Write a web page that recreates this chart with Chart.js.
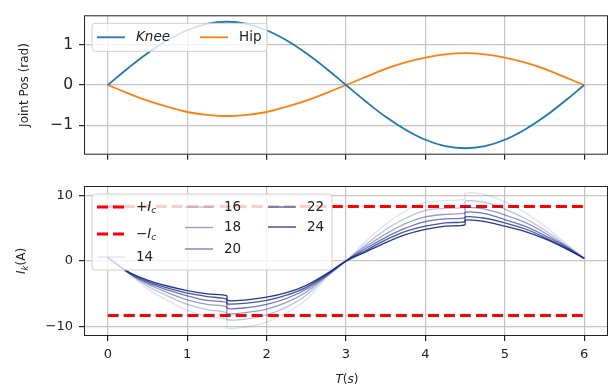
<!DOCTYPE html>
<html>
<head>
<meta charset="utf-8">
<script src="https://cdn.jsdelivr.net/npm/chart.js@4.4.1/dist/chart.umd.min.js"></script>
<style>
  body { margin: 0; background: #fff; }
  #wrap { position: relative; width: 613px; height: 392px; font-family: "DejaVu Sans"; color: #222; }
  #posChart { position: absolute; left: 0; top: 0; }
  #curChart { position: absolute; left: 0; top: 170px; }
  .lab { position: absolute; font-size: 12px; white-space: nowrap; }
  .lab sub { font-size: 8.5px; vertical-align: -3px; }
  #ylab2 { left: 22px; top: 261px; transform: translate(-50%, -50%) rotate(-90deg); }
  #xlab { left: 347px; top: 379px; transform: translate(-50%, -50%); }
</style>
</head>
<body>
<div id="wrap">
  <canvas id="posChart" width="613" height="170"></canvas>
  <canvas id="curChart" width="613" height="222"></canvas>
  <div class="lab" id="ylab2"><i>I</i><sub><i>k</i></sub>(A)</div>
  <div class="lab" id="xlab"><i>T</i>(<i>s</i>)</div>
</div>
<script>
// joint positions (rad)
let tPos = [0, 0.25, 0.5, 0.75, 1, 1.25, 1.5, 1.75, 2, 2.25, 2.5, 2.75, 3,
   3.25, 3.5, 3.75, 4, 4.25, 4.5, 4.75, 5, 5.25, 5.5, 5.75, 6];
let knee = [0, 0.41, 0.79, 1.11, 1.36, 1.52, 1.57, 1.52, 1.36, 1.11, 0.79, 0.41, 0,
   -0.41, -0.79, -1.11, -1.36, -1.52, -1.57, -1.52, -1.36, -1.11, -0.79, -0.41, 0];
let hip = [0, -0.2, -0.39, -0.54, -0.67, -0.74, -0.77, -0.74, -0.67, -0.54, -0.39, -0.2, 0,
   0.2, 0.4, 0.56, 0.68, 0.76, 0.79, 0.76, 0.68, 0.56, 0.4, 0.2, 0];

// motor currents (A), jump at 1.5 s and 4.5 s
let tCur = [0, 0.25, 0.5, 0.75, 1, 1.25, 1.5, 1.5, 1.75, 2, 2.25, 2.5, 2.75, 3,
   3.25, 3.5, 3.75, 4, 4.25, 4.5, 4.5, 4.75, 5, 5.25, 5.5, 5.75, 6];
let ratios = ["14", "16", "18", "20", "22", "24"];
let cur14 = [0.5, -1.8, -4.2, -6.0, -7.5, -8.4, -9.0, -10.2, -10.0, -9.3, -7.9, -5.9, -2.6, 0,
   3.0, 5.6, 7.6, 8.9, 9.2, 9.4, 10.3, 10.1, 9.0, 7.4, 5.3, 2.9, 0.4];
let cur16 = [0.5, -1.7, -3.8, -5.3, -6.6, -7.4, -7.9, -8.9, -8.8, -8.2, -7.0, -5.2, -2.4, 0,
   2.5, 4.8, 6.5, 7.7, 8.0, 8.2, 9.1, 8.9, 7.9, 6.5, 4.7, 2.6, 0.4];
let cur18 = [0.5, -1.7, -3.5, -4.8, -5.9, -6.6, -7.0, -8.0, -7.8, -7.3, -6.3, -4.7, -2.3, 0,
   2.2, 4.1, 5.7, 6.7, 7.1, 7.3, 8.1, 7.9, 7.0, 5.9, 4.3, 2.4, 0.4];
let cur20 = [0.5, -1.7, -3.3, -4.4, -5.3, -6.0, -6.3, -7.2, -7.1, -6.6, -5.7, -4.3, -2.2, 0,
   1.9, 3.6, 5.0, 6.0, 6.4, 6.6, 7.4, 7.2, 6.3, 5.3, 3.9, 2.3, 0.4];
let cur22 = [0.5, -1.6, -3.1, -4.1, -4.9, -5.4, -5.8, -6.5, -6.4, -6.0, -5.2, -4.0, -2.1, 0,
   1.6, 3.2, 4.5, 5.3, 5.8, 6.0, 6.7, 6.5, 5.8, 4.9, 3.6, 2.1, 0.4];
let cur24 = [0.5, -1.6, -2.9, -3.8, -4.5, -5.0, -5.3, -6.0, -5.9, -5.5, -4.8, -3.7, -2.0, 0,
   1.4, 2.8, 4.0, 4.8, 5.3, 5.5, 6.2, 6.0, 5.3, 4.5, 3.4, 2.0, 0.4];
let curSeries = [cur14, cur16, cur18, cur20, cur22, cur24];

// current limit
let icLevel = 8.3;
let icT = [0, 6];

let xTicks = [0, 1, 2, 3, 4, 5, 6];

Chart.defaults.font.family = "DejaVu Sans";
Chart.defaults.color = "#222";

const toPts = (xs, ys) => xs.map((x, i) => ({ x: x, y: ys[i] }));
const minus = (v) => String(v).replace("-", "\u2212");

// frame + legend box drawn inside the plot, like matplotlib
const boxLegend = {
   id: "boxLegend",
   afterDatasetsDraw(chart, args, opts) {
      const ctx = chart.ctx;
      const a = chart.chartArea;
      ctx.save();
      ctx.strokeStyle = "#222";
      ctx.lineWidth = 1;
      ctx.strokeRect(a.left + 0.5, a.top + 0.5, a.right - a.left - 1, a.bottom - a.top - 1);

      ctx.beginPath();
      ctx.roundRect(a.left + opts.x, a.top + opts.y, opts.w, opts.h, 3);
      ctx.fillStyle = "rgba(255,255,255,0.8)";
      ctx.fill();
      ctx.strokeStyle = "#d0d0d0";
      ctx.stroke();

      opts.items.forEach((it) => {
         const ds = chart.data.datasets[it.ds];
         const hx = a.left + it.x;
         const hy = a.top + it.y;
         ctx.beginPath();
         ctx.setLineDash(ds.borderDash || []);
         ctx.lineWidth = ds.borderWidth;
         ctx.strokeStyle = ds.borderColor;
         ctx.moveTo(hx, hy);
         ctx.lineTo(hx + 28, hy);
         ctx.stroke();
         ctx.setLineDash([]);

         ctx.fillStyle = "#222";
         ctx.textBaseline = "middle";
         let tx = hx + 39;
         const parts = it.parts || [{ t: ds.label }];
         parts.forEach((p) => {
            const fs = p.sub ? 9 : 13.5;
            ctx.font = (p.it ? "italic " : "") + fs + 'px "DejaVu Sans"';
            ctx.fillText(p.t, tx, hy + (p.sub ? 3.5 : 0));
            tx += ctx.measureText(p.t).width;
         });
      });
      ctx.restore();
   },
};

const xScale = (showLabels, h) => ({
   type: "linear",
   min: -0.3,
   max: 6.3,
   afterBuildTicks: (s) => { s.ticks = xTicks.map((v) => ({ value: v })); },
   afterFit: (s) => { s.height = h; },
   grid: { color: "#c4c4c4", lineWidth: 1.2, tickColor: "#222", tickLength: 5 },
   border: { display: false },
   ticks: {
      padding: 6,
      color: showLabels ? "#222" : "rgba(0,0,0,0)",
      font: { size: 13 },
      maxRotation: 0,
   },
});

// top: joint positions
new Chart("posChart", {
   type: "line",
   data: {
      datasets: [
         { label: "Knee", data: toPts(tPos, knee), borderColor: "#1f77b4", borderWidth: 1.8 },
         { label: "Hip", data: toPts(tPos, hip), borderColor: "#ff7f0e", borderWidth: 1.8 },
      ],
   },
   options: {
      responsive: false,
      animation: false,
      layout: { padding: { top: 7, right: 5, left: 0, bottom: 0 } },
      elements: { point: { radius: 0 }, line: { tension: 0.4 } },
      scales: {
         x: xScale(false, 13),
         y: {
            min: -1.73,
            max: 1.73,
            afterFit: (s) => { s.width = 84; },
            grid: { color: "#c4c4c4", lineWidth: 1.2, tickColor: "#222", tickLength: 5 },
            border: { display: false },
            ticks: { stepSize: 1, includeBounds: false, padding: 6, font: { size: 15.5 }, callback: minus },
            title: { display: true, text: "Joint Pos (rad)", font: { size: 12 }, padding: { top: 18, bottom: 0 } },
         },
      },
      plugins: {
         legend: { display: false },
         tooltip: { enabled: false },
         boxLegend: {
            x: 8, y: 8, w: 175, h: 28,
            items: [
               { ds: 0, x: 13, y: 22, parts: [{ t: "Knee", it: 1 }] },
               { ds: 1, x: 116, y: 22 },
            ],
         },
      },
   },
   plugins: [boxLegend],
});

// bottom: currents
let curSets = [
   { label: "+Ic", data: toPts(icT, [icLevel, icLevel]), borderColor: "#ff0000", borderWidth: 3, borderDash: [11, 5], order: 9 },
   { label: "-Ic", data: toPts(icT, [-icLevel, -icLevel]), borderColor: "#ff0000", borderWidth: 3, borderDash: [11, 5], order: 9 },
];
let alphas = [0.14, 0.3, 0.47, 0.64, 0.8, 0.95];
ratios.forEach((r, i) => {
   curSets.push({
      label: r,
      data: toPts(tCur, curSeries[i]),
      borderColor: "rgba(25,45,135," + alphas[i] + ")",
      borderWidth: 1.3,
      order: 6 - i,
   });
});

new Chart("curChart", {
   type: "line",
   data: { datasets: curSets },
   options: {
      responsive: false,
      animation: false,
      layout: { padding: { top: 16, right: 5, left: 0, bottom: 0 } },
      elements: { point: { radius: 0 }, line: { tension: 0.3 } },
      scales: {
         x: xScale(true, 56),
         y: {
            min: -11.4,
            max: 11.4,
            afterFit: (s) => { s.width = 84; },
            grid: { color: "#c4c4c4", lineWidth: 1.2, tickColor: "#222", tickLength: 5 },
            border: { display: false },
            ticks: { stepSize: 10, includeBounds: false, padding: 6, font: { size: 13 }, callback: minus },
         },
      },
      plugins: {
         legend: { display: false },
         tooltip: { enabled: false },
         boxLegend: {
            x: 8, y: 8, w: 240, h: 76,
            items: [
               { ds: 0, x: 13, y: 21, parts: [{ t: "+" }, { t: "I", it: 1 }, { t: "c", it: 1, sub: 1 }] },
               { ds: 1, x: 13, y: 48, parts: [{ t: "\u2212" }, { t: "I", it: 1 }, { t: "c", it: 1, sub: 1 }] },
               { ds: 2, x: 13, y: 71 },
               { ds: 3, x: 101, y: 21 },
               { ds: 4, x: 101, y: 41.5 },
               { ds: 5, x: 101, y: 63 },
               { ds: 6, x: 184, y: 21 },
               { ds: 7, x: 184, y: 41 },
            ],
         },
      },
   },
   plugins: [boxLegend],
});
</script>
</body>
</html>
